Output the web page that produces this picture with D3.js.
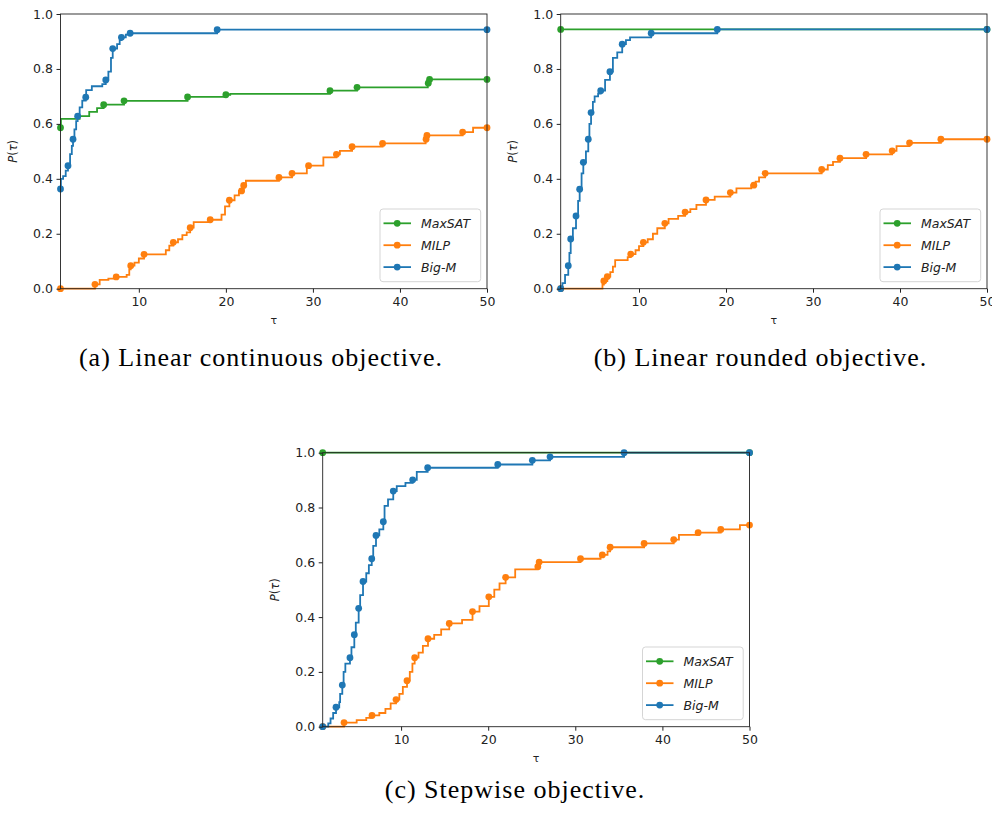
<!DOCTYPE html>
<html>
<head>
<meta charset="utf-8">
<script src="https://cdn.jsdelivr.net/npm/d3@7"></script>
<style>
body { margin: 0; background: #fff; }
text { fill: #222; }
</style>
</head>
<body>
<svg id="fig" width="992" height="813"></svg>
<script>
// ticks and series names
var tauTicks = [10, 20, 30, 40, 50];
var pTicks = [0, 0.2, 0.4, 0.6, 0.8, 1.0];
var solvers = ["MaxSAT", "MILP", "Big-M"];
var colors = {"MaxSAT": "#2ca02c", "MILP": "#ff7f0e", "Big-M": "#1f77b4"};

// (a) linear continuous objective: step points [tau, P(tau)] and marker taus
var a_maxsat = [[1,0.586],[1.05,0.618],[3.2,0.628],[4.3,0.644],[5.2,0.657],[5.96,0.67],[8.3,0.684],[15.6,0.698],[20,0.706],[20.5,0.709],[31.96,0.721],[35.07,0.733],[43.2,0.748],[43.4,0.762],[50,0.762]];
var a_maxsat_marks = [1, 5.96, 8.3, 15.6, 20, 31.96, 35.07, 43.25, 43.4, 50];
var a_milp = [[1,0],[4.96,0.016],[5.5,0.032],[6.5,0.037],[7.4,0.043],[8.6,0.05],[8.9,0.07],[9.07,0.084],[9.5,0.095],[10,0.11],[10.6,0.125],[13.1,0.14],[13.5,0.157],[13.96,0.169],[14.5,0.18],[15,0.195],[15.5,0.205],[15.9,0.222],[16.3,0.242],[18.2,0.251],[19.5,0.27],[19.9,0.3],[20.4,0.322],[21,0.34],[21.5,0.356],[22.05,0.376],[22.3,0.393],[26.1,0.405],[27.6,0.42],[29.3,0.448],[31.2,0.478],[32.7,0.489],[33.1,0.502],[34.5,0.517],[38,0.529],[42.95,0.544],[43.1,0.558],[47.2,0.57],[48.4,0.586],[50,0.586]];
var a_milp_marks = [1, 4.96, 7.4, 9.07, 10.6, 13.96, 15.9, 18.2, 20.4, 21.8, 22.05, 26.1, 27.6, 29.5, 32.7, 34.5, 38, 43.0, 43.1, 47.2, 50];
var a_bigm = [[1,0.363],[1.05,0.40],[1.3,0.41],[1.6,0.43],[1.86,0.448],[2.1,0.49],[2.3,0.52],[2.44,0.544],[2.6,0.58],[2.8,0.61],[2.97,0.628],[3.2,0.66],[3.5,0.685],[3.9,0.697],[3.95,0.723],[4.6,0.737],[5.8,0.745],[6.2,0.76],[6.5,0.79],[6.8,0.84],[7.0,0.874],[7.5,0.89],[7.8,0.905],[8.0,0.915],[8.5,0.925],[9.0,0.93],[19,0.943],[50,0.943]];
var a_bigm_marks = [1, 1.86, 2.44, 2.97, 3.9, 6.2, 7.0, 8.0, 9.0, 19, 50];

// (b) linear rounded objective
var b_maxsat = [[1,0.944],[50,0.944]];
var b_maxsat_marks = [1, 50];
var b_milp = [[1,0],[5.8,0.015],[5.96,0.028],[6.36,0.044],[6.7,0.06],[7.0,0.08],[7.26,0.104],[8.7,0.115],[9.05,0.126],[9.6,0.14],[10.0,0.155],[10.5,0.169],[11.0,0.18],[11.6,0.2],[12.1,0.22],[12.97,0.238],[13.4,0.254],[14.5,0.265],[15.3,0.279],[15.9,0.29],[16.6,0.305],[17.7,0.323],[18.7,0.335],[20.5,0.35],[21.2,0.365],[22.9,0.377],[23.4,0.39],[23.8,0.405],[24.5,0.42],[31.0,0.434],[31.7,0.45],[32.3,0.462],[33.1,0.475],[36.1,0.489],[39.1,0.502],[39.6,0.519],[41.1,0.531],[44.7,0.544],[50,0.544]];
var b_milp_marks = [1, 5.96, 6.36, 9.05, 10.5, 12.97, 15.3, 17.7, 20.5, 23.2, 24.5, 31.0, 33.1, 36.1, 39.1, 41.1, 44.7, 50];
var b_bigm = [[1,0],[1.2,0.02],[1.5,0.05],[1.87,0.084],[2.0,0.13],[2.15,0.181],[2.4,0.22],[2.76,0.265],[3.0,0.32],[3.18,0.362],[3.4,0.42],[3.6,0.46],[3.9,0.5],[4.17,0.544],[4.3,0.6],[4.49,0.641],[4.7,0.68],[4.9,0.70],[5.3,0.71],[5.6,0.721],[6.1,0.76],[6.66,0.79],[7.0,0.84],[7.5,0.86],[8.07,0.89],[8.5,0.905],[8.97,0.915],[11.4,0.93],[19,0.944],[50,0.944]];
var b_bigm_marks = [1, 1.87, 2.15, 2.76, 3.18, 3.6, 4.17, 4.49, 5.6, 6.66, 8.07, 11.4, 19, 50];

// (c) stepwise objective
var c_maxsat = [[1,1.0],[50,1.0]];
var c_maxsat_marks = [1, 50];
var c_milp = [[1,0],[3.45,0.015],[4.9,0.024],[6.0,0.032],[6.66,0.041],[7.5,0.05],[8.2,0.065],[8.8,0.085],[9.42,0.099],[9.8,0.12],[10.2,0.145],[10.68,0.168],[11.0,0.2],[11.3,0.23],[11.56,0.252],[12.0,0.27],[12.5,0.295],[13.09,0.321],[13.8,0.335],[14.6,0.355],[15.53,0.377],[17.0,0.39],[18.2,0.42],[19.0,0.44],[20.07,0.474],[20.7,0.5],[21.3,0.523],[22.0,0.545],[23.1,0.574],[25.7,0.584],[25.85,0.601],[30.6,0.613],[32.9,0.627],[33.7,0.64],[34.0,0.655],[37.9,0.669],[41.3,0.683],[41.9,0.70],[44.1,0.708],[46.7,0.72],[48.9,0.736],[50,0.736]];
var c_milp_marks = [1, 3.45, 6.66, 9.42, 10.68, 11.56, 13.09, 15.53, 18.2, 20.07, 22.0, 25.7, 25.85, 30.6, 33.1, 34.0, 37.9, 41.3, 44.1, 46.7, 50];
var c_bigm = [[1,0],[1.64,0.012],[1.9,0.03],[2.2,0.05],[2.53,0.071],[2.9,0.09],[3.0,0.12],[3.25,0.152],[3.4,0.2],[3.6,0.23],[4.13,0.252],[4.3,0.29],[4.63,0.336],[4.8,0.38],[5.13,0.432],[5.3,0.48],[5.63,0.53],[6.0,0.56],[6.3,0.59],[6.63,0.613],[6.8,0.66],[7.12,0.698],[7.5,0.72],[7.96,0.748],[8.1,0.806],[8.5,0.83],[9.1,0.86],[9.5,0.878],[10.5,0.89],[11.33,0.901],[11.8,0.93],[13.05,0.945],[21.1,0.957],[25.07,0.972],[27.1,0.985],[35.6,1.0],[50,1.0]];
var c_bigm_marks = [1, 2.53, 3.25, 4.13, 4.63, 5.13, 5.63, 6.63, 7.12, 7.96, 9.1, 11.33, 13.05, 21.1, 25.07, 27.1, 35.6, 50];

var svg = d3.select("#fig");

// value of a post-step function at tau
function stepAt(pts, t) {
  var v = pts[0][1];
  pts.forEach(function(p) { if (p[0] <= t + 1e-9) v = p[1]; });
  return v;
}

function drawPanel(left, top, w, h, series, caption, capX, capY) {
  var x = d3.scaleLinear().domain([1, 50]).range([0, w]);
  var y = d3.scaleLinear().domain([0, 1]).range([h, 0]);
  var g = svg.append("g").attr("transform", "translate(" + left + "," + top + ")");

  var line = d3.line()
      .x(function(d) { return x(d[0]); })
      .y(function(d) { return y(d[1]); })
      .curve(d3.curveStepAfter);

  series.forEach(function(s) {
    g.append("path")
      .attr("d", line(s.pts))
      .attr("fill", "none")
      .attr("stroke", colors[s.name])
      .attr("stroke-width", 1.8);
    g.selectAll(null)
      .data(s.marks)
      .enter().append("circle")
      .attr("cx", function(t) { return x(t); })
      .attr("cy", function(t) { return y(stepAt(s.pts, t)); })
      .attr("r", 3.4)
      .attr("fill", colors[s.name]);
  });

  // frame
  g.append("rect").attr("width", w).attr("height", h)
    .attr("fill", "none").attr("stroke", "#222").attr("stroke-width", 0.9);

  var xa = g.append("g").attr("transform", "translate(0," + h + ")")
    .call(d3.axisBottom(x).tickValues(tauTicks).tickSize(4).tickPadding(4).tickFormat(d3.format("d")));
  var ya = g.append("g")
    .call(d3.axisLeft(y).tickValues(pTicks).tickSize(4).tickPadding(3.5).tickFormat(d3.format(".1f")));
  [xa, ya].forEach(function(a) {
    a.select(".domain").remove();
    a.selectAll("line").attr("stroke", "#222");
    a.selectAll("text").attr("font-family", "DejaVu Sans").attr("font-size", 12.5).attr("fill", "#222");
  });

  g.append("text")
    .attr("x", w / 2).attr("y", h + 35)
    .attr("text-anchor", "middle")
    .attr("font-family", "DejaVu Sans").attr("font-size", 11)
    .text("τ");

  var yl = g.append("text")
    .attr("transform", "translate(" + (-44) + "," + (h / 2) + ") rotate(-90)")
    .attr("text-anchor", "middle")
    .attr("font-family", "DejaVu Sans").attr("font-size", 11.5);
  yl.append("tspan").attr("font-style", "italic").text("P");
  yl.append("tspan").text("(");
  yl.append("tspan").attr("font-style", "italic").text("τ");
  yl.append("tspan").text(")");

  // legend
  var lg = g.append("g").attr("transform", "translate(" + (w - 107) + "," + (h - 79.7) + ")");
  lg.append("rect").attr("width", 100.7).attr("height", 72.7).attr("rx", 3)
    .attr("fill", "#fff").attr("fill-opacity", 0.8)
    .attr("stroke", "#d0d0d0").attr("stroke-width", 0.9);
  solvers.forEach(function(name, i) {
    var ly = 14.3 + i * 21.9;
    lg.append("line").attr("x1", 3.5).attr("x2", 31).attr("y1", ly).attr("y2", ly)
      .attr("stroke", colors[name]).attr("stroke-width", 1.8);
    lg.append("circle").attr("cx", 17.2).attr("cy", ly).attr("r", 3.4).attr("fill", colors[name]);
    lg.append("text").attr("x", 41).attr("y", ly + 4.4)
      .attr("font-family", "DejaVu Sans").attr("font-style", "italic").attr("font-size", 12.5)
      .text(name);
  });

  svg.append("text")
    .attr("x", capX).attr("y", capY)
    .attr("text-anchor", "middle")
    .attr("font-family", "Liberation Serif").attr("font-size", 26)
    .attr("letter-spacing", 1)
    .style("fill", "#000")
    .text(caption);
}

drawPanel(60.5, 14, 426.5, 274.7,
  [{name: "MaxSAT", pts: a_maxsat, marks: a_maxsat_marks},
   {name: "MILP", pts: a_milp, marks: a_milp_marks},
   {name: "Big-M", pts: a_bigm, marks: a_bigm_marks}],
  "(a) Linear continuous objective.", 261, 366);

drawPanel(560.7, 14, 426.3, 274.7,
  [{name: "MaxSAT", pts: b_maxsat, marks: b_maxsat_marks},
   {name: "MILP", pts: b_milp, marks: b_milp_marks},
   {name: "Big-M", pts: b_bigm, marks: b_bigm_marks}],
  "(b) Linear rounded objective.", 760.5, 366);

drawPanel(322.7, 452.7, 426.8, 274,
  [{name: "MaxSAT", pts: c_maxsat, marks: c_maxsat_marks},
   {name: "MILP", pts: c_milp, marks: c_milp_marks},
   {name: "Big-M", pts: c_bigm, marks: c_bigm_marks}],
  "(c) Stepwise objective.", 515, 798);
</script>
</body>
</html>
